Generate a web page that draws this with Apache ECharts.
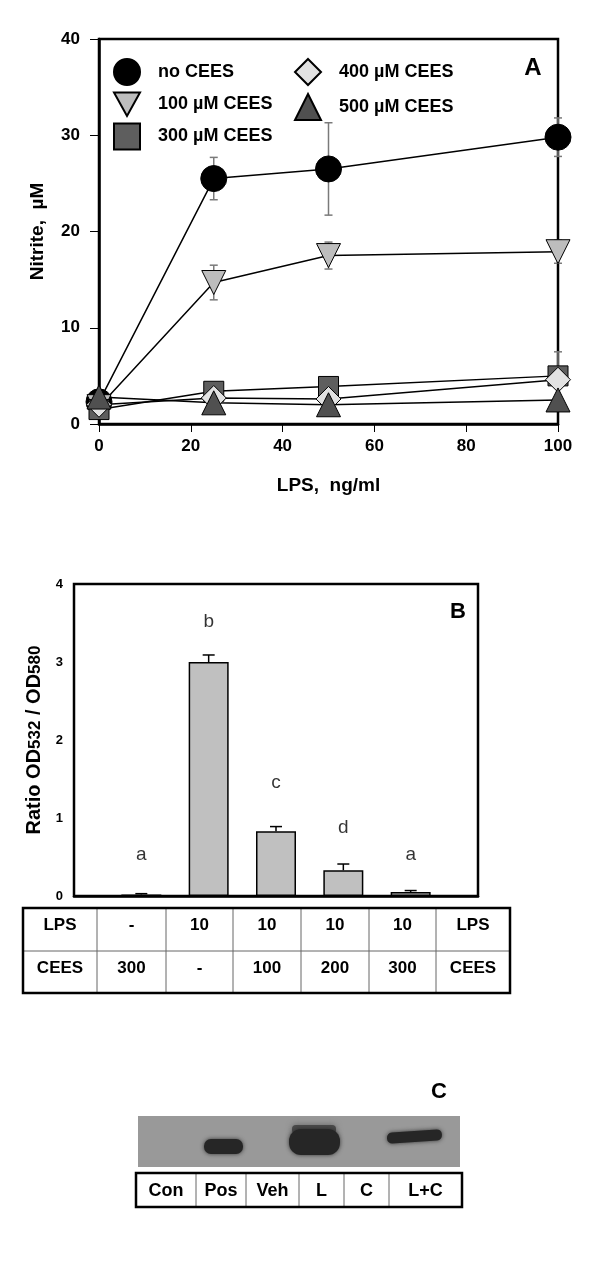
<!DOCTYPE html>
<html>
<head>
<meta charset="utf-8">
<script src="https://cdn.jsdelivr.net/npm/echarts@6/dist/echarts.min.js"></script>
<style>
  html, body { margin: 0; padding: 0; background: #fff; }
  #chart { width: 600px; height: 1271px; }
</style>
</head>
<body>
<div id="chart"></div>
<script>
// ---- panel A data ----
var lpsDoses = [0, 25, 50, 100];
var noCees = [2.3, 25.5, 26.5, 29.8];
var noCeesErr = [0.3, 2.2, 4.8, 2.0];
var cees100 = [1.8, 14.7, 17.5, 17.9];
var cees100Err = [0.3, 1.8, 1.4, 1.2];
var cees300 = [1.5, 3.4, 3.9, 5.0];
var cees300Err = [0.2, 0.3, 0.4, 2.5];
var cees400 = [2.0, 2.7, 2.6, 4.6];
var cees400Err = [0.2, 0.3, 0.3, 0.5];
var cees500 = [2.8, 2.2, 2.0, 2.5];
var cees500Err = [0.3, 0.2, 0.2, 0.3];

// ---- panel B data ----
var bCats = ['', 'g1', 'g2', 'g3', 'g4', 'g5', ''];
var ratio = [null, 0.02, 3.0, 0.83, 0.33, 0.05, null];
var ratioErr = [null, 0.01, 0.09, 0.06, 0.08, 0.02, null];
var letters = ['', 'a', 'b', 'c', 'd', 'a', ''];
var letterPos = [null, 0.53, 3.52, 1.45, 0.88, 0.53, null];
var lpsRow = ['LPS', '-', '10', '10', '10', '10', 'LPS'];
var ceesRow = ['CEES', '300', '-', '100', '200', '300', 'CEES'];

// ---- panel C lanes ----
var lanes = ['Con', 'Pos', 'Veh', 'L', 'C', 'L+C'];

var FONT = '"Liberation Sans", Arial, sans-serif';
var downTri = 'path://M0,0L10,0L5,9Z';

function pairs(xs, ys) {
    var out = [];
    for (var i = 0; i < xs.length; i++) out.push([xs[i], ys[i]]);
    return out;
}
function triples(xs, ys, es) {
    var out = [];
    for (var i = 0; i < xs.length; i++) {
        if (ys[i] == null) continue;
        out.push([xs[i], ys[i], es[i]]);
    }
    return out;
}

function errRender(both, color, cap) {
    return function (params, api) {
        var x = api.value(0), y = api.value(1), e = api.value(2);
        var top = api.coord([x, y + e]);
        var bot = api.coord([x, both ? y - e : y]);
        var style = { stroke: color, lineWidth: 1.5 };
        var kids = [
            { type: 'line', shape: { x1: top[0], y1: top[1], x2: bot[0], y2: bot[1] }, style: style },
            { type: 'line', shape: { x1: top[0] - cap, y1: top[1], x2: top[0] + cap, y2: top[1] }, style: style }
        ];
        if (both) {
            kids.push({ type: 'line', shape: { x1: bot[0] - cap, y1: bot[1], x2: bot[0] + cap, y2: bot[1] }, style: style });
        }
        return { type: 'group', children: kids };
    };
}

function lineSeries(name, ys, symbol, size, color) {
    return {
        name: name,
        type: 'line',
        xAxisIndex: 0, yAxisIndex: 0,
        data: pairs(lpsDoses, ys),
        symbol: symbol,
        symbolSize: size,
        z: 3,
        lineStyle: { color: '#000', width: 1.5 },
        itemStyle: { color: color, borderColor: '#000', borderWidth: 1 },
        emphasis: { disabled: true },
        animation: false
    };
}
function errSeries(ys, es) {
    return {
        type: 'custom',
        xAxisIndex: 0, yAxisIndex: 0,
        data: triples(lpsDoses, ys, es),
        renderItem: errRender(true, '#7a7a7a', 4),
        z: 1,
        silent: true,
        animation: false
    };
}

// ---- tables (graphic) ----
var graphics = [];
function txt(s, x, y, size) {
    return {
        type: 'text',
        style: { text: s, x: x, y: y, align: 'center', verticalAlign: 'middle',
                 fontSize: size, fontWeight: 'bold', fontFamily: FONT, fill: '#000' }
    };
}
function hline(x1, x2, y, w, c) {
    return { type: 'line', shape: { x1: x1, y1: y, x2: x2, y2: y }, style: { stroke: c, lineWidth: w } };
}
function vline(x, y1, y2, w, c) {
    return { type: 'line', shape: { x1: x, y1: y1, x2: x, y2: y2 }, style: { stroke: c, lineWidth: w } };
}

// table under panel B
var tbCols = [23, 97, 166, 233, 301, 369, 436, 510];
var tbRows = [908, 951, 993];
for (var i = 1; i < tbCols.length - 1; i++) graphics.push(vline(tbCols[i], tbRows[0], tbRows[2], 1, '#666'));
graphics.push(hline(tbCols[0], tbCols[7], tbRows[1], 1, '#666'));
graphics.push({ type: 'rect', shape: { x: tbCols[0], y: tbRows[0], width: tbCols[7] - tbCols[0], height: tbRows[2] - tbRows[0] },
                style: { fill: null, stroke: '#000', lineWidth: 2.5 } });
for (var j = 0; j < lpsRow.length; j++) {
    var cx = (tbCols[j] + tbCols[j + 1]) / 2;
    graphics.push(txt(lpsRow[j], cx, 925, 17));
    graphics.push(txt(ceesRow[j], cx, 968, 17));
}

// panel C blot
var bandStyle = { fill: '#262626', shadowBlur: 4, shadowColor: 'rgba(30,30,30,0.8)' };
graphics.push({ type: 'rect', shape: { x: 138, y: 1116, width: 322, height: 51 }, style: { fill: '#999999' } });
graphics.push({ type: 'rect', shape: { x: 204, y: 1139, width: 39, height: 15, r: 7 }, style: bandStyle });
graphics.push({ type: 'rect', shape: { x: 292, y: 1125, width: 44, height: 9, r: 4 },
                style: { fill: '#4a4a4a', shadowBlur: 6, shadowColor: '#666' } });
graphics.push({ type: 'rect', shape: { x: 289, y: 1129, width: 51, height: 26, r: 12 }, style: bandStyle });
graphics.push({ type: 'rect', shape: { x: 387, y: 1131, width: 55, height: 11, r: 5 }, rotation: 0.07,
                originX: 414, originY: 1137, style: bandStyle });
graphics.push({ type: 'text', style: { text: 'C', x: 439, y: 1092, align: 'center', verticalAlign: 'middle',
                fontSize: 22, fontWeight: 'bold', fontFamily: FONT, fill: '#000' } });

// table under blot
var tcCols = [136, 196, 246, 299, 344, 389, 462];
var tcTop = 1173, tcBot = 1207;
for (var k = 1; k < tcCols.length - 1; k++) graphics.push(vline(tcCols[k], tcTop, tcBot, 1, '#666'));
graphics.push({ type: 'rect', shape: { x: tcCols[0], y: tcTop, width: tcCols[6] - tcCols[0], height: tcBot - tcTop },
                style: { fill: null, stroke: '#000', lineWidth: 2.5 } });
for (var m = 0; m < lanes.length; m++) {
    graphics.push(txt(lanes[m], (tcCols[m] + tcCols[m + 1]) / 2, 1191, 18));
}

// panel letters
graphics.push({ type: 'text', style: { text: 'A', x: 533, y: 68, align: 'center', verticalAlign: 'middle',
                fontSize: 24, fontWeight: 'bold', fontFamily: FONT, fill: '#000' } });
graphics.push({ type: 'text', style: { text: 'B', x: 458, y: 612, align: 'center', verticalAlign: 'middle',
                fontSize: 22, fontWeight: 'bold', fontFamily: FONT, fill: '#000' } });

var axisText = { color: '#000', fontWeight: 'bold', fontFamily: FONT };
var legendText = { color: '#000', fontSize: 18, fontWeight: 'bold', fontFamily: FONT, padding: [0, 0, 0, 13] };

var myChart = echarts.init(document.getElementById('chart'));
var option = {
    backgroundColor: '#fff',
    animation: false,
    textStyle: { fontFamily: FONT },
    legend: [{
        left: 108, top: 53, orient: 'vertical',
        itemWidth: 26, itemHeight: 26, itemGap: 5.5,
        textStyle: legendText,
        data: [{ name: 'no CEES', icon: 'circle' },
               { name: '100 µM CEES', icon: downTri },
               { name: '300 µM CEES', icon: 'rect' }]
    }, {
        left: 289, top: 53, orient: 'vertical',
        itemWidth: 26, itemHeight: 26, itemGap: 7,
        textStyle: legendText,
        data: [{ name: '400 µM CEES', icon: 'diamond' },
               { name: '500 µM CEES', icon: 'triangle' }]
    }],
    grid: [
        { left: 99, top: 39, width: 459, height: 385, show: true, borderColor: '#000', borderWidth: 2.5 },
        { left: 74, top: 584, width: 404, height: 312, show: true, borderColor: '#000', borderWidth: 2.5 }
    ],
    xAxis: [{
        gridIndex: 0, type: 'value', min: 0, max: 100, interval: 20,
        splitLine: { show: false },
        axisLine: { lineStyle: { color: '#000', width: 2.5 } },
        axisTick: { length: 8, lineStyle: { color: '#000', width: 1 } },
        axisLabel: Object.assign({ fontSize: 17, margin: 14 }, axisText),
        name: 'LPS,  ng/ml', nameLocation: 'middle', nameGap: 52,
        nameTextStyle: Object.assign({ fontSize: 19 }, axisText)
    }, {
        gridIndex: 1, type: 'category', data: bCats, boundaryGap: false,
        axisLine: { lineStyle: { color: '#000', width: 2.5 } },
        axisTick: { show: false },
        axisLabel: { show: false }
    }],
    yAxis: [{
        gridIndex: 0, type: 'value', min: 0, max: 40, interval: 10,
        splitLine: { show: false },
        axisLine: { lineStyle: { color: '#000', width: 2.5 } },
        axisTick: { length: 9, lineStyle: { color: '#000', width: 1 } },
        axisLabel: Object.assign({ fontSize: 17, margin: 19 }, axisText),
        name: 'Nitrite,  µM', nameLocation: 'middle', nameGap: 52,
        nameTextStyle: Object.assign({ fontSize: 19 }, axisText)
    }, {
        gridIndex: 1, type: 'value', min: 0, max: 4, interval: 1,
        splitLine: { show: false },
        axisLine: { lineStyle: { color: '#000', width: 2.5 } },
        axisTick: { length: 5, lineStyle: { color: '#000', width: 1 } },
        axisLabel: Object.assign({ fontSize: 13, margin: 11 }, axisText),
        name: '{t|Ratio OD}{s|532}{t| / OD}{s|580}', nameLocation: 'middle', nameGap: 30,
        nameTextStyle: {
            rich: {
                t: { fontSize: 20, fontWeight: 'bold', fontFamily: FONT, color: '#000', verticalAlign: 'bottom', lineHeight: 22 },
                s: { fontSize: 17, fontWeight: 'bold', fontFamily: FONT, color: '#000', verticalAlign: 'bottom', lineHeight: 18 }
            }
        }
    }],
    series: [
        errSeries(noCees, noCeesErr),
        errSeries(cees100, cees100Err),
        errSeries(cees300, cees300Err),
        errSeries(cees400, cees400Err),
        errSeries(cees500, cees500Err),
        lineSeries('no CEES', noCees, 'circle', 26, '#000'),
        lineSeries('100 µM CEES', cees100, downTri, 24, '#bdbdbd'),
        lineSeries('300 µM CEES', cees300, 'rect', 20, '#5e5e5e'),
        lineSeries('400 µM CEES', cees400, 'diamond', 25, '#e2e2e2'),
        lineSeries('500 µM CEES', cees500, 'triangle', 24, '#505050'),
        {
            type: 'bar', xAxisIndex: 1, yAxisIndex: 1,
            data: ratio, barWidth: 40,
            itemStyle: { color: '#c0c0c0', borderColor: '#000', borderWidth: 1.5 },
            z: 2, silent: true
        },
        {
            type: 'custom', xAxisIndex: 1, yAxisIndex: 1,
            data: triples([0, 1, 2, 3, 4, 5, 6], ratio, ratioErr),
            renderItem: errRender(false, '#000', 6),
            z: 3, silent: true
        },
        {
            type: 'scatter', xAxisIndex: 1, yAxisIndex: 1,
            data: letterPos, symbolSize: 0,
            label: {
                show: true, position: 'inside', color: '#000', fontSize: 19, fontFamily: FONT,
                formatter: function (p) { return letters[p.dataIndex]; }
            },
            silent: true
        }
    ],
    graphic: graphics
};
myChart.setOption(option);
</script>
</body>
</html>
